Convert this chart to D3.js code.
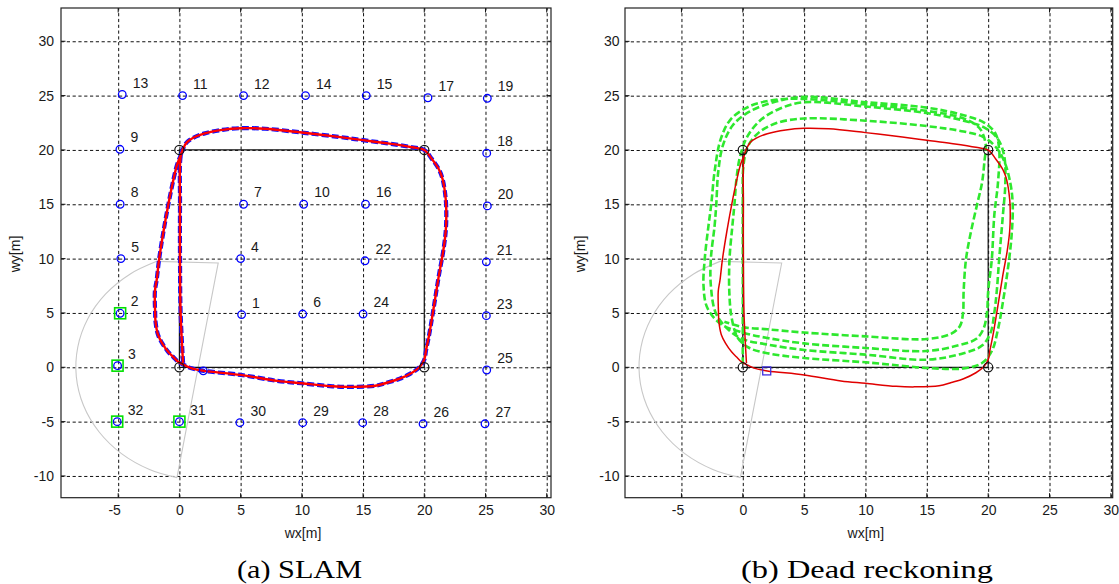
<!DOCTYPE html>
<html><head><meta charset="utf-8">
<script src="https://cdn.jsdelivr.net/npm/d3@7"></script>
<style>
body{margin:0;background:#fff;}svg{display:block;}
.sans{font-family:"Liberation Sans",Arimo,Arial,sans-serif;}
.serif{font-family:"Liberation Serif",Tinos,"Times New Roman",serif;}
</style>
</head><body>
<svg id="chart" width="1119" height="584"></svg>
<script>
// ---------------- data ----------------
const xTicks = [-5, 0, 5, 10, 15, 20, 25, 30];
const yTicks = [-10, -5, 0, 5, 10, 15, 20, 25, 30];
const captions = ["(a) SLAM", "(b) Dead reckoning"];

// reference (planned) square path and its waypoints
const refPath = [[0, 0], [20, 0], [20, 20], [0, 20], [0, 0]];
const waypointX = [0, 0, 20, 20];
const waypointY = [0, 20, 20, 0];

// landmarks (panel a)
const landmarkIds = [13, 11, 12, 14, 15, 17, 19, 9, 18, 8, 7, 10, 16, 20, 5, 4, 22, 21, 2, 1, 6, 24, 23, 3, 25, 32, 31, 30, 29, 28, 26, 27];
const landmarkX = [-4.67, 0.26, 5.24, 10.3, 15.26, 20.3, 25.15, -4.86, 25.1, -4.84, 5.24, 10.15, 15.2, 25.15, -4.78, 5.0, 15.16, 25.07, -4.84, 5.08, 10.07, 15.0, 25.07, -5.05, 25.1, -5.08, 0.0, 4.94, 10.07, 14.97, 19.9, 24.96];
const landmarkY = [25.1, 25.0, 25.0, 25.0, 25.0, 24.8, 24.75, 20.06, 19.7, 15.0, 15.0, 15.0, 15.0, 14.85, 10.0, 10.0, 9.8, 9.7, 4.97, 4.85, 4.9, 4.9, 4.75, 0.15, -0.25, -5.0, -5.0, -5.1, -5.1, -5.1, -5.2, -5.2];
const observedIds = [2, 3, 32, 31];

// robot position
const robotX = 1.95, robotY = -0.33;

// sensor range (fan) outline
const sensorArc = [[-1.85, 9.75], [-4.01, 8.59], [-6.02, 6.75], [-7.48, 4.46], [-8.30, 1.86], [-8.42, -0.86], [-7.83, -3.52], [-6.57, -5.93], [-4.73, -7.94], [-2.44, -9.40], [-0.20, -10.15]];
const sensorEdges = [[-0.20, -10.15], [3.17, 9.6], [-1.85, 9.75]];

// true trajectory (also SLAM estimate)
const truePath = [
  [0.3, 0.4], [0.1, 5], [0.05, 10], [0.05, 15], [0.1, 19.4],
  [0.3, 20.1], [0.6, 20.7], [1.1, 21.1], [2, 21.5], [3.5, 21.85], [5, 22.0], [7, 21.95], [10, 21.6], [13, 21.2], [15, 20.9], [17, 20.6], [19, 20.25], [20, 20.0],
  [20.6, 19.2], [21.2, 18.2], [21.5, 17.3], [21.75, 15.5], [21.8, 14], [21.75, 12.5], [21.55, 10.7], [21.2, 8.5], [20.7, 5], [20.4, 3], [20.15, 1.6], [20.0, 0.7],
  [19.6, 0.0], [19, -0.5], [18, -1.05], [17, -1.4], [16, -1.7], [14, -1.8], [12.5, -1.75], [10, -1.47], [8, -1.25], [5, -0.7], [2, -0.33], [1, -0.1], [0.4, 0.2],
  [-0.1, 0.5], [-0.5, 0.95], [-0.9, 1.4], [-1.4, 2.2], [-1.75, 3], [-1.95, 4.2], [-1.98, 5], [-2.0, 7], [-1.86, 8], [-1.65, 10], [-1.3, 12.5], [-0.9, 15], [-0.5, 17.2], [-0.2, 18.6], [0.1, 19.5], [0.3, 20.1]
];

// dead reckoning trajectory (panel b)
const deadReckoning = [
  [0, 0.3], [0, 5], [0, 10], [0, 15], [0.05, 18.5],
  [0.4, 20.3], [1.3, 21.6], [2.8, 22.5], [5, 22.9], [10, 22.7], [15, 22.2], [18, 21.7], [19.6, 21.2], [20.6, 20.3],
  [21.3, 19], [21.8, 17], [22.0, 15], [21.9, 12], [21.6, 9], [21.2, 6], [20.8, 3.5], [20.3, 1.5], [19.5, 0.4],
  [18, -0.1], [15, -0.06], [12, 0.25], [10, 0.46], [5, 0.86], [2, 1.3], [0.5, 1.8], [-0.4, 2.7],
  [-0.9, 4.5], [-1.1, 7], [-1.08, 10], [-0.85, 13], [-0.68, 15], [-0.5, 17.5], [-0.2, 19.5],
  [0.4, 21.3], [1.5, 22.8], [3, 23.8], [5, 24.4], [10, 24.0], [15, 23.4], [18, 22.7], [19.8, 22.0], [20.8, 21.0],
  [21.3, 19.5], [21.4, 17], [21.2, 14], [20.9, 10], [20.7, 7], [20.5, 5], [20.2, 3.2], [19.5, 2], [18, 1.3],
  [15, 0.7], [10, 1.17], [5, 1.6], [2, 2.1], [0, 2.6], [-1.2, 3.5],
  [-2.2, 5], [-2.6, 7.5], [-2.6, 10], [-2.3, 13], [-2.16, 15], [-2, 18], [-1.6, 20.5],
  [-0.8, 22.3], [0.5, 23.5], [2.5, 24.4], [5, 24.9], [10, 24.4], [15, 23.9], [18, 23.2], [19.7, 22.5], [20.6, 21.5],
  [20.9, 20], [20.8, 17], [20.5, 14], [20.3, 10], [20.0, 7], [19.9, 5], [19.6, 3.5], [19, 2.6], [17.5, 2],
  [15, 1.5], [10, 1.78], [5, 2.2], [2, 2.7], [0, 3.2], [-1.8, 4],
  [-2.9, 5.5], [-3.2, 7.5], [-3.1, 10], [-2.8, 13], [-2.57, 15], [-2.3, 18], [-1.8, 21],
  [-1.0, 22.8], [0.5, 24.0], [2.5, 24.6], [5, 24.7], [10, 24.2], [15, 23.6], [18, 22.9], [19.3, 22.0], [19.8, 20.5],
  [19.7, 19], [19.5, 17], [19.1, 15], [18.6, 12.5], [18.2, 10], [18.0, 7], [17.95, 5], [17.7, 3.8], [17, 3.1], [15, 2.6],
  [10, 2.85], [5, 3.2], [2, 3.5], [0, 3.7], [-1.5, 4.2]
];

// ---------------- layout ----------------
const panels = [
  {left: 61, right: 551, top: 8, bottom: 497.7, xd: [-9.67, 30.35], yd: [-12, 33.06], ylabX: 15, capX: 299.5, capLen: 125, slam: true},
  {left: 625, right: 1112.7, top: 8, bottom: 497.7, xd: [-9.6, 30.15], yd: [-12, 33.07], ylabX: 580, capX: 867, capLen: 252, slam: false}
];

const svg = d3.select("#chart");

panels.forEach((p, pi) => {
  const x = d3.scaleLinear().domain(p.xd).range([p.left, p.right]);
  const y = d3.scaleLinear().domain(p.yd).range([p.bottom, p.top]);
  const W = p.right - p.left, H = p.bottom - p.top;
  const g = svg.append("g");

  // grid + tick labels via axes
  const xa = g.append("g").attr("transform", `translate(0,${p.bottom})`)
    .call(d3.axisBottom(x).tickValues(xTicks).tickSize(-H).tickPadding(7.4).tickFormat(d3.format("d")));
  const ya = g.append("g").attr("transform", `translate(${p.left},0)`)
    .call(d3.axisLeft(y).tickValues(yTicks).tickSize(-W).tickPadding(pi === 0 ? 7 : 5.5).tickFormat(d3.format("d")));
  [xa, ya].forEach(a => {
    a.attr("font-family", null).attr("font-size", null);
    a.select(".domain").remove();
    a.selectAll("line").attr("stroke", "#111").attr("stroke-width", 1).attr("stroke-dasharray", "3.2,2.6");
    a.selectAll("text").attr("class", "sans").attr("font-size", 14).attr("fill", "#1a1a1a");
  });
  xa.selectAll("text").text(d => d < 0 ? "-" + Math.abs(d) : d).attr("dx", d => d < 0 ? -4 : 0);
  ya.selectAll("text").text(d => d < 0 ? "-" + Math.abs(d) : d);

  const clip = "clip" + pi;
  svg.append("clipPath").attr("id", clip).append("rect")
    .attr("x", p.left).attr("y", p.top).attr("width", W).attr("height", H);
  const pg = g.append("g").attr("clip-path", `url(#${clip})`);

  const line = d3.line().x(d => x(d[0])).y(d => y(d[1]));
  const smooth = d3.line().x(d => x(d[0])).y(d => y(d[1])).curve(d3.curveCatmullRom);

  // sensor fan
  pg.append("path").attr("d", smooth(sensorArc)).attr("fill", "none").attr("stroke", "#c8c8c8").attr("stroke-width", 1.1);
  pg.append("path").attr("d", line(sensorEdges)).attr("fill", "none").attr("stroke", "#c8c8c8").attr("stroke-width", 1.1);

  // reference square path
  pg.append("path").attr("d", line(refPath)).attr("fill", "none").attr("stroke", "#111").attr("stroke-width", 1.2);

  if (p.slam) {
    pg.append("path").attr("d", smooth(truePath)).attr("fill", "none")
      .attr("stroke", "#1010ff").attr("stroke-width", 4.2).attr("stroke-dasharray", "7,3");
    pg.append("path").attr("d", smooth(truePath)).attr("fill", "none")
      .attr("stroke", "#ff0000").attr("stroke-width", 2.4);
  } else {
    pg.append("path").attr("d", smooth(deadReckoning)).attr("fill", "none")
      .attr("stroke", "#2ee82e").attr("stroke-width", 2.6).attr("stroke-dasharray", "7,3");
    pg.append("path").attr("d", smooth(truePath)).attr("fill", "none")
      .attr("stroke", "#e00000").attr("stroke-width", 1.5);
  }

  // waypoints
  pg.selectAll(".wp").data(waypointX).enter().append("circle")
    .attr("cx", d => x(d)).attr("cy", (d, i) => y(waypointY[i])).attr("r", 4.6)
    .attr("fill", "none").attr("stroke", "#111").attr("stroke-width", 1.2);

  if (p.slam) {
    const lm = landmarkIds.map((id, i) => ({id, x: landmarkX[i], y: landmarkY[i]}));
    pg.selectAll(".lm").data(lm).enter().append("circle")
      .attr("cx", d => x(d.x)).attr("cy", d => y(d.y)).attr("r", 3.8)
      .attr("fill", "none").attr("stroke", "#0000ff").attr("stroke-width", 1.3);
    pg.selectAll(".obs").data(lm.filter(d => observedIds.includes(d.id))).enter().append("rect")
      .attr("x", d => x(d.x) - 5.5).attr("y", d => y(d.y) - 5.5).attr("width", 11).attr("height", 11)
      .attr("fill", "none").attr("stroke", "#00e000").attr("stroke-width", 1.6);
    pg.selectAll(".lbl").data(lm).enter().append("text").attr("class", "sans")
      .attr("x", d => x(d.x) + 10.5).attr("y", d => y(d.y) - 7)
      .attr("font-size", 14).attr("fill", "#1a1a1a").text(d => d.id);
    pg.append("circle").attr("cx", x(robotX)).attr("cy", y(robotY)).attr("r", 3.8)
      .attr("fill", "none").attr("stroke", "#0000ff").attr("stroke-width", 1.3);
  } else {
    pg.append("rect").attr("x", x(robotX) - 4).attr("y", y(robotY) - 4).attr("width", 8).attr("height", 8)
      .attr("fill", "none").attr("stroke", "#4030e0").attr("stroke-width", 1.3);
  }

  // inner ticks on all sides
  const tk = g.append("g").attr("stroke", "#111").attr("stroke-width", 1);
  xTicks.forEach(t => {
    tk.append("line").attr("x1", x(t)).attr("x2", x(t)).attr("y1", p.bottom).attr("y2", p.bottom - 4.5);
    tk.append("line").attr("x1", x(t)).attr("x2", x(t)).attr("y1", p.top).attr("y2", p.top + 4.5);
  });
  yTicks.forEach(t => {
    tk.append("line").attr("y1", y(t)).attr("y2", y(t)).attr("x1", p.left).attr("x2", p.left + 4.5);
    tk.append("line").attr("y1", y(t)).attr("y2", y(t)).attr("x1", p.right).attr("x2", p.right - 4.5);
  });

  // frame
  g.append("rect").attr("x", p.left).attr("y", p.top).attr("width", W).attr("height", H)
    .attr("fill", "none").attr("stroke", "#222").attr("stroke-width", 1.2);

  // axis labels
  g.append("text").attr("class", "sans").attr("x", (p.left + p.right) / 2 - 3).attr("y", 538)
    .attr("text-anchor", "middle").attr("font-size", 14).attr("fill", "#1a1a1a").text("wx[m]");
  g.append("text").attr("class", "sans").attr("transform", `translate(${p.ylabX + 5},254) rotate(-90)`)
    .attr("text-anchor", "middle").attr("font-size", 14).attr("fill", "#1a1a1a").text("wy[m]");

  // caption
  g.append("text").attr("class", "serif").attr("x", p.capX).attr("y", 578).attr("text-anchor", "middle")
    .attr("font-size", 26)
    .attr("textLength", p.capLen).attr("lengthAdjust", "spacingAndGlyphs")
    .attr("fill", "#000").text(captions[pi]);
});
</script>
</body></html>
